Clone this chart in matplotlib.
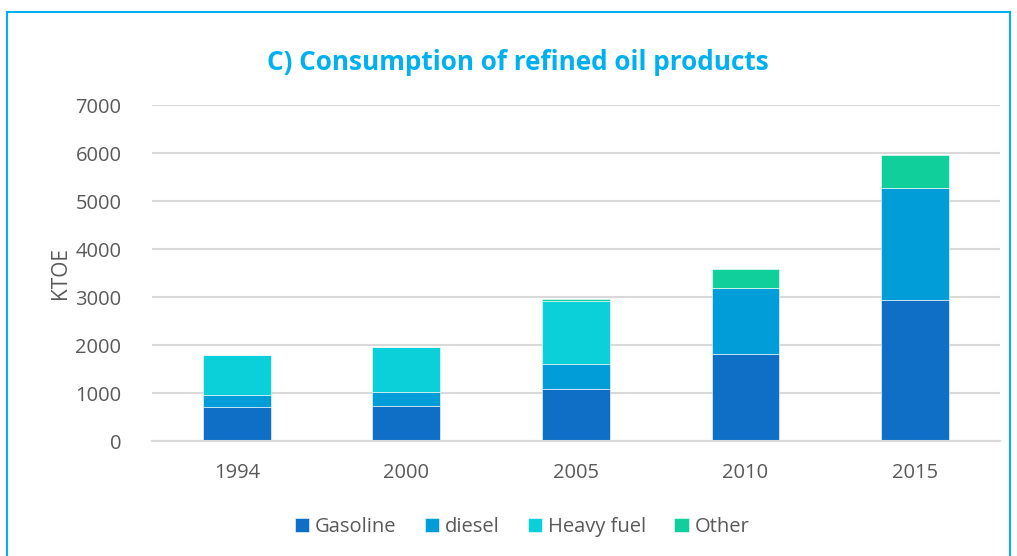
import matplotlib.pyplot as plt
from matplotlib.patches import Rectangle
import numpy as np

years = ["1994", "2000", "2005", "2010", "2015"]
gasoline = [700, 720, 1080, 1820, 2945]
diesel = [250, 305, 530, 1375, 2330]
heavy_fuel = [835, 940, 1305, 0, 0]
other = [0, 0, 40, 395, 680]

series = [
    ("Gasoline", gasoline, "#0F6FC6"),
    ("diesel", diesel, "#009DD9"),
    ("Heavy fuel", heavy_fuel, "#0BD0D9"),
    ("Other", other, "#10CF9B"),
]

plt.rcParams['font.family'] = ['Open Sans', 'DejaVu Sans']

fig = plt.figure(figsize=(10.17, 5.56), dpi=100)
ax = fig.add_axes([0.1495, 0.2068, 0.8335, 0.6043])

x = np.arange(len(years))
bottom = np.zeros(len(years))
for name, vals, color in series:
    ax.bar(x, vals, width=0.4, bottom=bottom, color=color, label=name,
           edgecolor='white', linewidth=0.4)
    bottom += np.array(vals)

ax.set_ylim(0, 7000)
ax.set_xlim(-0.5, len(years) - 0.5)
ax.set_yticks(range(0, 7001, 1000))
ax.set_xticks(x)
ax.set_xticklabels(years)
ax.yaxis.grid(True, color='#D9D9D9', linewidth=1.5)
ax.set_axisbelow(True)
for s in ['top', 'right', 'left']:
    ax.spines[s].set_visible(False)
ax.spines['bottom'].set_color('#D9D9D9')
ax.spines['bottom'].set_linewidth(1.5)
ax.tick_params(axis='both', length=0, labelsize=14.5, labelcolor='#595959')
ax.tick_params(axis='x', pad=16)
ax.tick_params(axis='y', pad=22)
ax.set_ylabel("KTOE", fontsize=15, color='#595959', labelpad=3)

fig.text(0.509, 0.888, "C) Consumption of refined oil products", ha='center', va='center',
         fontsize=18.8, fontweight='bold', color='#00B0F0')

ax.legend(loc='center', bbox_to_anchor=(0.5135, 0.052), bbox_transform=fig.transFigure,
          ncol=4, frameon=False, fontsize=14.5, handlelength=0.7, handleheight=0.7,
          handletextpad=0.3, columnspacing=1.4, labelcolor='#595959')

fig.patches.append(Rectangle((7 / 1017, -0.01), 1003 / 1017, (556 - 12) / 556 + 0.01,
                             transform=fig.transFigure, fill=False,
                             edgecolor='#00B0F0', linewidth=1.5))

fig.savefig("out.png", dpi=100)
